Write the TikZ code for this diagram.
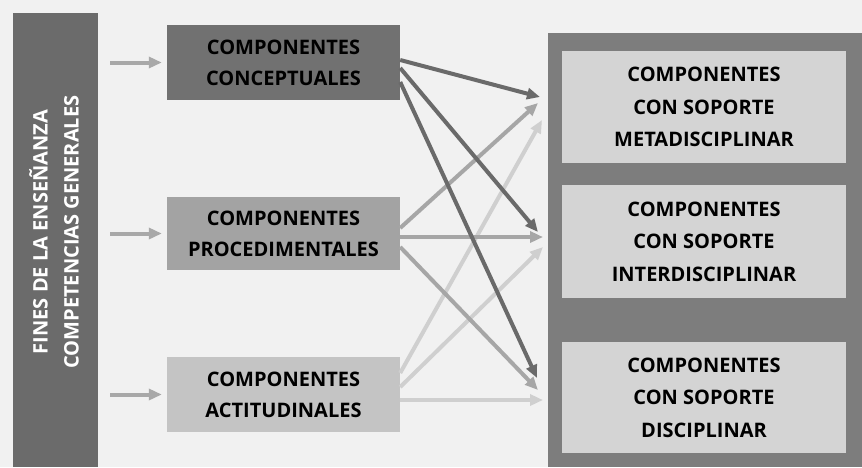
\documentclass[tikz,border=0pt]{standalone}
\usepackage{fontspec}
\setmainfont{Open Sans}
\usetikzlibrary{arrows.meta,calc}
\definecolor{bg}{HTML}{F1F1F1}
\definecolor{barc}{HTML}{6B6B6B}
\definecolor{boxa}{HTML}{717171}
\definecolor{boxb}{HTML}{A3A3A3}
\definecolor{boxc}{HTML}{C4C4C4}
\definecolor{contc}{HTML}{7D7D7D}
\definecolor{innerc}{HTML}{D4D4D4}
\definecolor{arra}{HTML}{6A6A6A}
\definecolor{arrb}{HTML}{A6A6A6}
\definecolor{arrc}{HTML}{CFCFCF}
\definecolor{arrs}{HTML}{A8A8A8}
\begin{document}
\begin{tikzpicture}[x=1pt,y=-1pt,
  lbox/.style={minimum width=233pt, inner sep=0pt, align=center, font=\bfseries\fontsize{20}{31}\selectfont, text=black},
  rbox/.style={fill=innerc, minimum width=284pt, inner sep=0pt, align=center, font=\bfseries\fontsize{20}{32.5}\selectfont, text=black},
  conn/.style={line width=4pt, -{Triangle[length=13pt,width=11pt]}},
  smallarr/.style={conn, arrs, shorten <=12pt, shorten >=5pt}]
\useasboundingbox[fill=bg] (0,0) rectangle (862,467);
% left bar
\node[fill=barc, minimum width=85pt, minimum height=454pt, inner sep=0pt, anchor=north west] (bar) at (13,13) {};
\node[rotate=90, text=white, align=center, font=\bfseries\fontsize{20}{31}\selectfont] (bartext) at (54,232) {FINES DE LA ENSEÑANZA\\COMPETENCIAS GENERALES};
% left boxes
\node[lbox, fill=boxa, minimum height=75pt] (c1) at (283.5,62.5) {COMPONENTES\\CONCEPTUALES};
\node[lbox, fill=boxb, minimum height=73pt] (c2) at (283.5,233.5) {COMPONENTES\\PROCEDIMENTALES};
\node[lbox, fill=boxc, minimum height=75pt] (c3) at (283.5,394.5) {COMPONENTES\\ACTITUDINALES};
% right container
\node[fill=contc, minimum width=314pt, minimum height=434pt, inner sep=0pt, anchor=north west] (cont) at (548,33) {};
\node[rbox, minimum height=112pt] (m) at (704,107) {COMPONENTES\\CON SOPORTE\\METADISCIPLINAR};
\node[rbox, minimum height=113pt] (i) at (704,241.5) {COMPONENTES\\CON SOPORTE\\INTERDISCIPLINAR};
\node[rbox, minimum height=111pt] (d) at (704,397.5) {COMPONENTES\\CON SOPORTE\\DISCIPLINAR};
% small arrows
\draw[smallarr] (bar.east |- c1.west) -- (c1.west);
\draw[smallarr] (bar.east |- c2.west) -- (c2.west);
\draw[smallarr] (bar.east |- c3.west) -- (c3.west);
% arrow end points
\coordinate (am) at (540,97);
\coordinate (ai) at (538,232);
\coordinate (ad) at (537,378);
\coordinate (bm) at (538,103);
\coordinate (bi) at (543,237);
\coordinate (bd) at (538,390);
\coordinate (cm) at (542,120);
\coordinate (ci) at (543,247);
\coordinate (cd) at (543,400);
% actitudinal arrows
\draw[conn, arrc] ($(c3.east)+(0,-21.5)$) -- (cm);
\draw[conn, arrc] ($(c3.east)+(0,-7.5)$) -- (ci);
\draw[conn, arrc] ($(c3.east)+(0,5.5)$) -- (cd);
% procedimental arrows
\draw[conn, arrb] ($(c2.east)+(0,-5.5)$) -- (bm);
\draw[conn, arrb] ($(c2.east)+(0,3.5)$) -- (bi);
\draw[conn, arrb] ($(c2.east)+(0,13.5)$) -- (bd);
% conceptual arrows
\draw[conn, arra] ($(c1.east)+(0,-2.5)$) -- (am);
\draw[conn, arra] ($(c1.east)+(0,5.5)$) -- (ai);
\draw[conn, arra] ($(c1.east)+(0,19.5)$) -- (ad);
\end{tikzpicture}
\end{document}
